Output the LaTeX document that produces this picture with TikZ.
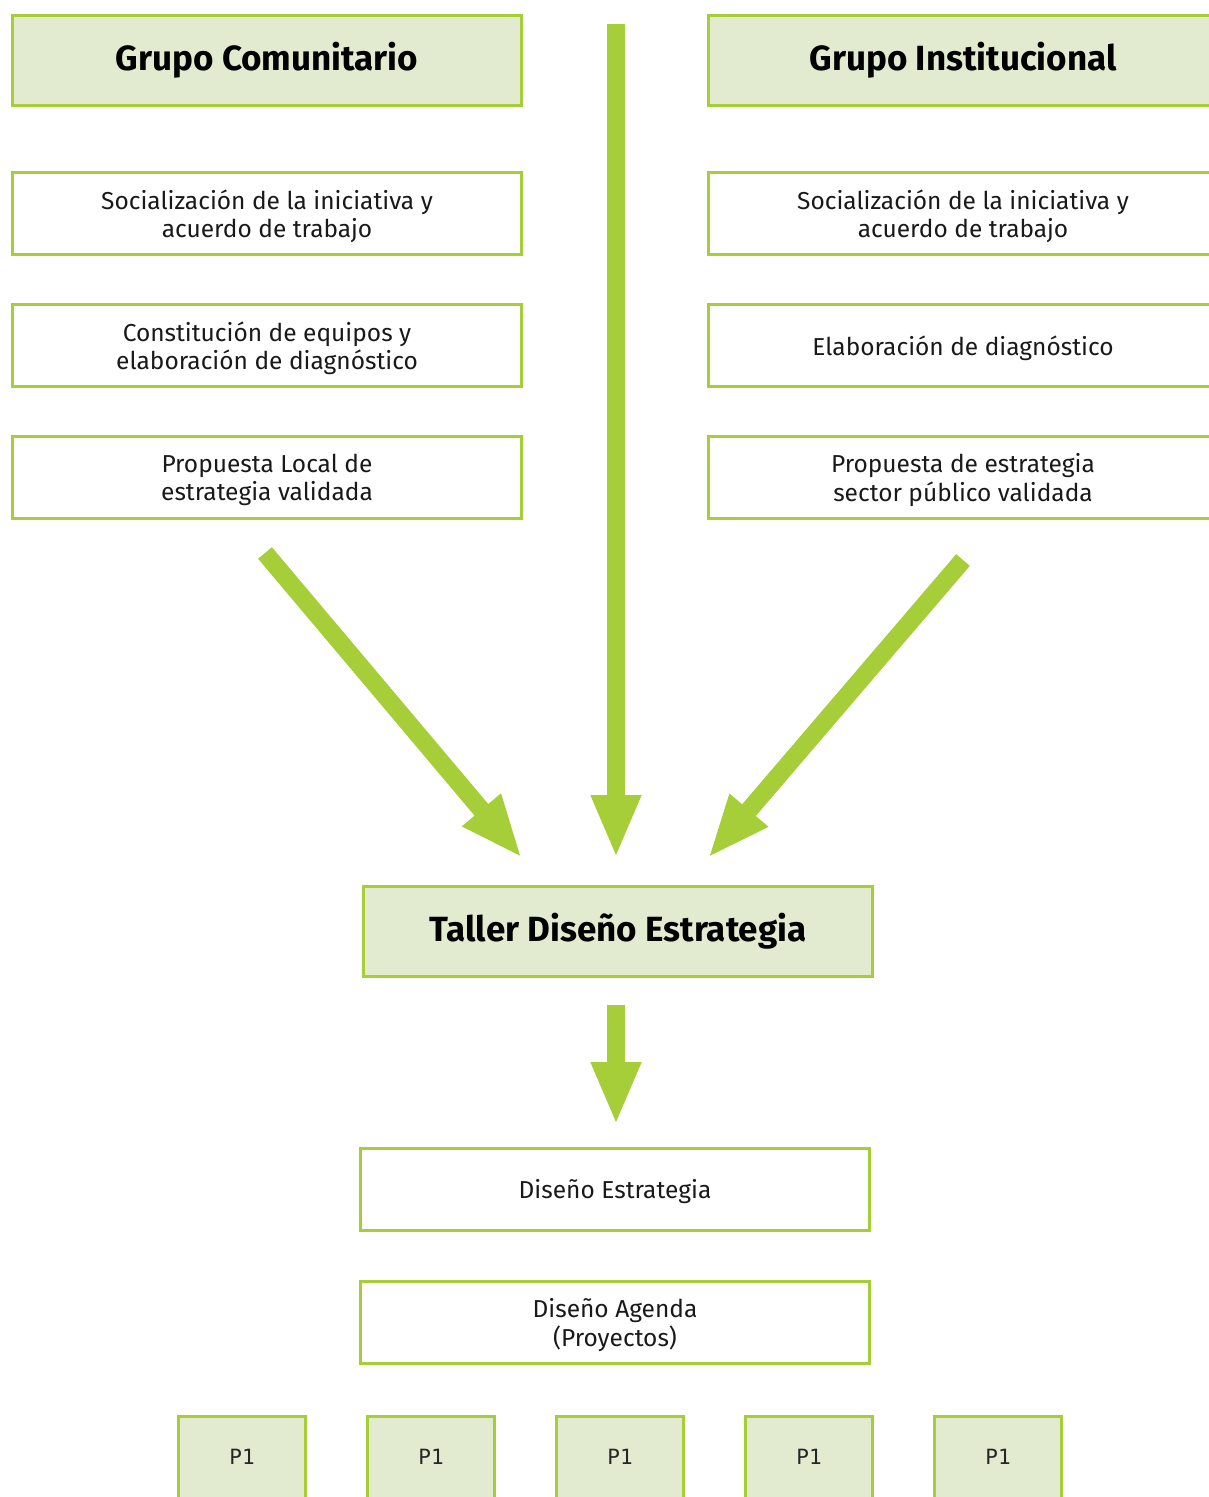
\documentclass[tikz,border=0pt]{standalone}
\usepackage{fontspec}
\setmainfont{Fira Sans}
\newfontfamily\pfont{DejaVu Sans Mono}
\usetikzlibrary{arrows.meta}
\definecolor{verde}{HTML}{A6CE39}
\definecolor{verdeclaro}{HTML}{E2EBCF}
\begin{document}
\begin{tikzpicture}[x=1pt,y=-1pt,
	marco/.style={rectangle,draw=verde,line width=3pt,minimum width=509pt,minimum height=82pt,inner sep=0pt,align=center},
	caja/.style={marco,font=\fontsize{24.5}{28.5}\selectfont,text=black!90,text depth=-4pt},
	titulo/.style={marco,fill=verdeclaro,minimum height=90pt,font=\fontsize{35}{40}\selectfont\bfseries,text=black},
	proy/.style={marco,fill=verdeclaro,minimum width=127pt,font=\fontsize{21}{26}\selectfont\pfont,text=black!85},
	flecha/.style={draw=verde,line width=18pt,-{Triangle[length=63pt,width=46pt]}}]
\useasboundingbox (0,0) rectangle (1209,1497);
\node[titulo] (gc) at (267,60.5) {Grupo Comunitario};
\node[titulo] (gi) at (963,60.5) {Grupo Institucional};
\node[caja] (c1) at (267,213.5) {Socialización de la iniciativa y\\acuerdo de trabajo};
\node[caja] (c2) at (267,345.5) {Constitución de equipos y\\elaboración de diagnóstico};
\node[caja] (c3) at (267,477.5) {Propuesta Local de\\estrategia validada};
\node[caja] (i1) at (963,213.5) {Socialización de la iniciativa y\\acuerdo de trabajo};
\node[caja] (i2) at (963,345.5) {Elaboración de diagnóstico};
\node[caja] (i3) at (963,477.5) {Propuesta de estrategia\\sector público validada};
\node[titulo] (taller) at (618,931.5) {Taller Diseño Estrategia};
\node[caja] (de) at (615,1189) {Diseño Estrategia};
\node[caja] (da) at (615,1322.5) {Diseño Agenda\\(Proyectos)};
\foreach \x [count=\i] in {242,431,620,809,998}
	\node[proy] (p\i) at (\x,1457) {P1};
\coordinate (ai) at (265,553);
\coordinate (bi) at (522,858);
\coordinate (ac) at (616,24);
\coordinate (bc) at (616,858);
\coordinate (ad) at (963,560);
\coordinate (bd) at (708,858);
\coordinate (at) at (616,1005);
\coordinate (bt) at (616,1125);
\draw[flecha] (ai) -- (bi);
\draw[flecha] (ac) -- (bc);
\draw[flecha] (ad) -- (bd);
\draw[flecha] (at) -- (bt);
\end{tikzpicture}
\end{document}
